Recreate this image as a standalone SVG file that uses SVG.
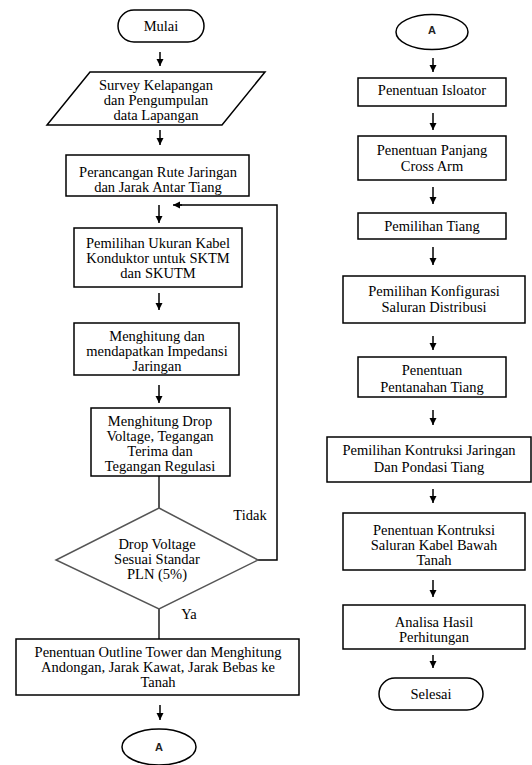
<svg xmlns="http://www.w3.org/2000/svg" width="532" height="765" viewBox="0 0 532 765">
<defs>
<marker id="ah" markerWidth="8" markerHeight="8" refX="7" refY="4" orient="auto" markerUnits="userSpaceOnUse">
<path d="M0,0.5 L7,4 L0,7.5 Z" fill="#000"/>
</marker>
<style>
.n{fill:#fff;stroke:#000;stroke-width:1.5}
.t{font-family:"Liberation Serif","Times New Roman",serif;font-size:14.5px;fill:#000;text-anchor:middle}
.s{font-family:"Liberation Sans",Arial,sans-serif;font-size:11px;font-weight:bold;fill:#222;text-anchor:middle}
.a{stroke:#000;stroke-width:1.5;fill:none;marker-end:url(#ah)}
.g{stroke:#555;stroke-width:2;fill:none}
.f{stroke:#000;stroke-width:1.5;fill:none}
</style>
</defs>
<rect width="532" height="765" fill="#fff"/>
<g id="connectors">
<line class="a" x1="160" y1="52" x2="160" y2="66"/>
<line class="a" x1="160" y1="130" x2="160" y2="145"/>
<line class="a" x1="159" y1="205" x2="159" y2="223"/>
<line class="a" x1="159" y1="293" x2="159" y2="310"/>
<line class="a" x1="159" y1="385" x2="159" y2="403"/>
<line class="g" x1="159" y1="476" x2="159" y2="508"/>
<line class="g" x1="159" y1="609" x2="159" y2="639"/>
<polyline class="f" points="258,560 277,560 277,205 180,205"/>
<line class="a" x1="182" y1="205" x2="173" y2="205"/>
<line class="a" x1="160" y1="705" x2="160" y2="720"/>
<line class="a" x1="433" y1="58" x2="433" y2="72"/>
<line class="a" x1="433" y1="113" x2="433" y2="130"/>
<line class="a" x1="433" y1="187" x2="433" y2="204"/>
<line class="a" x1="433" y1="247" x2="433" y2="265"/>
<line class="a" x1="433" y1="336" x2="433" y2="350"/>
<line class="a" x1="433" y1="410" x2="433" y2="425"/>
<line class="a" x1="433" y1="489" x2="433" y2="503"/>
<line class="a" x1="433" y1="580" x2="433" y2="597"/>
<line class="a" x1="433" y1="655" x2="433" y2="668"/>
<text class="t" x="250" y="520">Tidak</text>
<text class="t" x="189" y="619">Ya</text>
</g>
<g id="mulai"><rect class="n" x="118" y="10" width="86" height="32" rx="16"/><text class="t" x="161" y="31">Mulai</text></g>
<g id="survey"><polygon class="n" points="90,72 265,72 222,125 47,125"/><text class="t" x="156" y="90">Survey Kelapangan</text><text class="t" x="156" y="105">dan Pengumpulan</text><text class="t" x="156" y="120">data Lapangan</text></g>
<g id="perancangan"><rect class="n" x="66" y="155" width="183" height="41"/><text class="t" x="158" y="177">Perancangan Rute Jaringan</text><text class="t" x="158" y="192">dan Jarak Antar Tiang</text></g>
<g id="pemilihan-kabel"><rect class="n" x="74" y="228" width="168" height="59"/><text class="t" x="158" y="248">Pemilihan Ukuran Kabel</text><text class="t" x="158" y="263">Konduktor untuk SKTM</text><text class="t" x="158" y="278">dan SKUTM</text></g>
<g id="impedansi"><rect class="n" x="74" y="323" width="165" height="52"/><text class="t" x="157" y="341">Menghitung dan</text><text class="t" x="157" y="356">mendapatkan Impedansi</text><text class="t" x="157" y="371">Jaringan</text></g>
<g id="drop"><rect class="n" x="91" y="408" width="139" height="68"/><text class="t" x="160" y="426">Menghitung Drop</text><text class="t" x="160" y="441">Voltage, Tegangan</text><text class="t" x="160" y="456">Terima dan</text><text class="t" x="160" y="471">Tegangan Regulasi</text></g>
<g id="keputusan"><polygon points="159,508 258,560 159,609 56,560" fill="#fff" stroke="#555" stroke-width="1.5"/><text class="t" x="157" y="549">Drop Voltage</text><text class="t" x="157" y="564">Sesuai Standar</text><text class="t" x="157" y="579">PLN (5%)</text></g>
<g id="outline"><rect class="n" x="16" y="639" width="283" height="56"/><text class="t" x="158" y="657">Penentuan Outline Tower dan Menghitung</text><text class="t" x="158" y="672">Andongan, Jarak Kawat, Jarak Bebas ke</text><text class="t" x="158" y="687">Tanah</text></g>
<g id="konektor-a1"><ellipse class="n" cx="159" cy="747" rx="37" ry="18"/><text class="s" x="159" y="751">A</text></g>
<g id="konektor-a2"><ellipse class="n" cx="432" cy="32" rx="36" ry="17.5"/><text class="s" x="432" y="34">A</text></g>
<g id="isolator"><rect class="n" x="358" y="78" width="148" height="28"/><text class="t" x="432" y="95">Penentuan Isloator</text></g>
<g id="cross-arm"><rect class="n" x="358" y="136" width="148" height="44"/><text class="t" x="432" y="155">Penentuan Panjang</text><text class="t" x="432" y="171">Cross  Arm</text></g>
<g id="tiang"><rect class="n" x="358" y="213" width="148" height="26"/><text class="t" x="432" y="231">Pemilihan Tiang</text></g>
<g id="konfigurasi"><rect class="n" x="343" y="276" width="182" height="47"/><text class="t" x="434" y="296">Pemilihan Konfigurasi</text><text class="t" x="434" y="312">Saluran Distribusi</text></g>
<g id="pentanahan"><rect class="n" x="358" y="357" width="148" height="40"/><text class="t" x="432" y="375">Penentuan</text><text class="t" x="432" y="392">Pentanahan Tiang</text></g>
<g id="kontruksi-jaringan"><rect class="n" x="327" y="437" width="204" height="45"/><text class="t" x="429" y="455">Pemilihan Kontruksi Jaringan</text><text class="t" x="429" y="472">Dan Pondasi Tiang</text></g>
<g id="kontruksi-kabel"><rect class="n" x="343" y="513" width="182" height="57"/><text class="t" x="434" y="535">Penentuan Kontruksi</text><text class="t" x="434" y="550">Saluran Kabel Bawah</text><text class="t" x="434" y="565">Tanah</text></g>
<g id="analisa"><rect class="n" x="343" y="605" width="182" height="44"/><text class="t" x="434" y="627">Analisa Hasil</text><text class="t" x="434" y="642">Perhitungan</text></g>
<g id="selesai"><rect class="n" x="379" y="678" width="104" height="32" rx="16"/><text class="t" x="431" y="699">Selesai</text></g>
</svg>
